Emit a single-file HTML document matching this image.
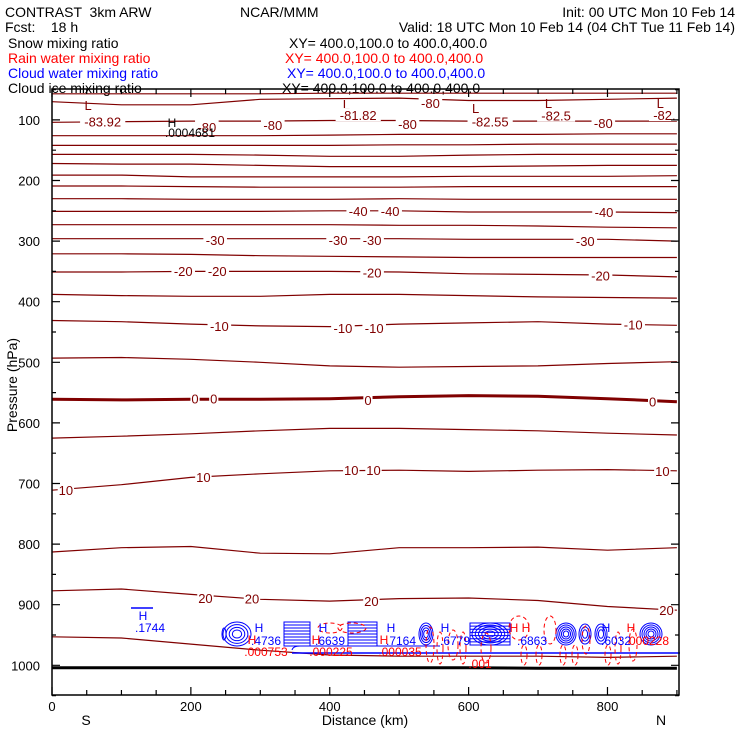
<!DOCTYPE html>
<html><head><meta charset="utf-8">
<style>
html,body{margin:0;padding:0;background:#fff;}
svg{display:block;font-family:"Liberation Sans",sans-serif;}
</style></head>
<body>
<svg id="chart" width="740" height="740" viewBox="0 0 740 740" xmlns="http://www.w3.org/2000/svg">
  <g font-size="14">
    <text x="5" y="17" xml:space="preserve">CONTRAST  3km ARW</text>
    <text x="240" y="17">NCAR/MMM</text>
    <text x="735" y="17" text-anchor="end">Init: 00 UTC Mon 10 Feb 14</text>
    <text x="5" y="32" xml:space="preserve">Fcst:    18 h</text>
    <text x="735" y="32" text-anchor="end">Valid: 18 UTC Mon 10 Feb 14 (04 ChT Tue 11 Feb 14)</text>
    <text x="8" y="48">Snow mixing ratio</text>
    <text x="289" y="48">XY= 400.0,100.0 to 400.0,400.0</text>
    <text x="8" y="63" fill="#ff0000">Rain water mixing ratio</text>
    <text x="285" y="63" fill="#ff0000">XY= 400.0,100.0 to 400.0,400.0</text>
    <text x="8" y="78" fill="#0000ff">Cloud water mixing ratio</text>
    <text x="287" y="78" fill="#0000ff">XY= 400.0,100.0 to 400.0,400.0</text>
    <text x="8" y="93">Cloud ice mixing ratio</text>
    <text x="282" y="93">XY= 400.0,100.0 to 400.0,400.0</text>
  </g>
  <g id="plot"></g>
  <text font-size="14" transform="translate(17,385) rotate(-90)" text-anchor="middle">Pressure (hPa)</text>
  <text font-size="14" x="365" y="725" text-anchor="middle">Distance (km)</text>
  <text font-size="14" x="86" y="725" text-anchor="middle">S</text>
  <text font-size="14" x="661" y="725" text-anchor="middle">N</text>
</svg>
<script>
const kmStops = [0,100,200,300,400,500,600,700,800,900];
const isotherm1 = [57,57,57,57,56,56,56,56,56,56];
const isotherm2 = [70,75,75,66,65,64,68,68,66,64];
const isotherm3 = [104,103,102,102,101,101,102,102,102,102];
const isotherm4 = [126,126,126,126,125,124,124,124,123,123];
const isotherm5 = [142,142,142,142,142,141,141,140,140,140];
const isotherm6 = [157,157,157,158,160,160,158,157,157,157];
const isotherm7 = [172,173,173,175,177,177,177,176,175,175];
const isotherm8 = [191,191,194,194,194,194,193,193,193,192];
const isotherm9 = [209,209,210,211,211,211,210,210,210,210];
const isotherm10 = [230,230,231,231,231,230,231,231,231,231];
const isotherm11 = [251,251,251,251,250,250,252,252,252,253];
const isotherm12 = [273,273,273,273,273,274,274,275,277,278];
const isotherm13 = [296,296,296,296,296,296,297,297,297,300];
const isotherm14 = [321,321,322,324,325,326,327,327,327,327];
const isotherm15 = [351,351,350,350,350,351,354,355,356,359];
const isotherm16 = [388,390,391,391,388,388,390,392,393,394];
const isotherm17 = [431,433,437,440,441,437,435,433,437,439];
const isotherm18 = [493,492,495,500,506,508,507,506,502,499];
const isotherm19 = [561,562,561,561,560,557,555,556,560,565];
const isotherm20 = [625,622,618,613,609,609,611,613,617,620];
const isotherm21 = [711,702,690,684,679,678,680,678,677,679];
const isotherm22 = [813,806,804,815,816,806,806,805,810,806];
const isotherm23 = [877,874,883,891,894,890,889,893,903,909];
const isotherm24 = [953,955,965,975,983,985,985,985,987,985];
const groundLevel = [1004,1004,1004,1004,1004,1004,1004,1005,1005,1005];
const isotherms = [isotherm1,isotherm2,isotherm3,isotherm4,isotherm5,isotherm6,isotherm7,isotherm8,isotherm9,isotherm10,isotherm11,isotherm12,isotherm13,isotherm14,isotherm15,isotherm16,isotherm17,isotherm18,isotherm19,isotherm20,isotherm21,isotherm22,isotherm23,isotherm24];
const pressureTicks = [100,200,300,400,500,600,700,800,900,1000];
const distanceTicks = [0,200,400,600,800];
const labelKm = [52,73,223,318,424,441,545,512,610,631,715,726,794,876,882,441,487,795,235,412,461,768,189,238,461,790,241,419,464,837,206,233,455,865,20,218,431,463,879,221,288,460,885];
const labelP = [75,103,112,108,74,92,72,107,80,103,72,93,105,72,92,250,250,252,298,298,298,300,349,349,352,357,440,443,443,438,560,560,562,565,711,689,678,678,679,889,890,894,909];
const labelText = ["L","-83.92","-80","-80","L","-81.82","-80","-80","L","-82.55","L","-82.5","-80","L","-82.","-40","-40","-40","-30","-30","-30","-30","-20","-20","-20","-20","-10","-10","-10","-10","0","0","0","0","10","10","10","10","10","20","20","20","20"];

const X0=52, X1=679, KMAX=903, Y0=89, Y1=695, PMIN=49, PMAX=1049;
const xs = km => X0 + (km/KMAX)*(X1-X0);
const ys = p => Y0 + (p-PMIN)/(PMAX-PMIN)*(Y1-Y0);
const NS="http://www.w3.org/2000/svg";
const plot=document.getElementById('plot');
function mk(tag,attrs,parent){const e=document.createElementNS(NS,tag);for(const k in attrs)e.setAttribute(k,attrs[k]);(parent||plot).appendChild(e);return e;}

isotherms.forEach((arr,i)=>{
  const d=arr.map((p,j)=>(j?'L':'M')+xs(kmStops[j]).toFixed(1)+','+ys(p).toFixed(1)).join(' ');
  const el=mk('path',{d:d,fill:'none',stroke:'#800000','stroke-width':(i===18?3:1.2)});
  
  
});
{
  const d=groundLevel.map((p,j)=>(j?'L':'M')+xs(kmStops[j]).toFixed(1)+','+ys(p).toFixed(1)).join(' ');
  const el=mk('path',{d:d,fill:'none',stroke:'#000','stroke-width':3});
  
  
}
labelText.forEach((t,i)=>{
  const isL=(t==='L');
  const x=xs(labelKm[i]), y=ys(labelP[i]);
  const w=t.length*7.2+2;
  if(!isL){const bg=mk('rect',{x:x-w/2,y:y-7,width:w,height:13,fill:'#fff'});
    
    }
  const el=mk('text',{x:x,y:y+5,'text-anchor':'middle','font-size':13,fill:'#800000'});
  el.textContent=t;
  
  
});
{
  let e=mk('text',{x:172,y:127,'text-anchor':'middle','font-size':12,fill:'#000'});e.textContent='H';
  
  
  e=mk('text',{x:190,y:137,'text-anchor':'middle','font-size':12,fill:'#000'});e.textContent='.0004681';
  
  
}
const g=mk('g',{});


function stripes(x,y,w,h,n){for(let i=0;i<n;i++){mk('path',{d:`M${x},${y+i*h/(n-1)} h${w}`,stroke:'#0000ff','stroke-width':1},g);} mk('rect',{x:x,y:y,width:w,height:h,fill:'none',stroke:'#0000ff'},g);}
function ovals(cx,cy,rx,ry,n){for(let i=0;i<n;i++){mk('ellipse',{cx:cx,cy:cy,rx:rx*(1-i/(n+0.5)),ry:ry*(1-i/(n+0.5)),fill:'none',stroke:'#0000ff','stroke-width':1},g);}}
stripes(284,622,26,24,9); stripes(348,622,29,24,9); stripes(470,623,40,22,8);
ovals(237,634,14,12,4); ovals(426,634,7,11,4); ovals(490,634,18,11,5); ovals(566,634,10,11,5);
ovals(585,634,6,10,3); ovals(601,634,6,10,3); ovals(651,634,11,11,5); ovals(224,634,2,6,1);
mk('path',{d:'M292,653 H680',stroke:'#0000ff','stroke-width':1.5},g);
mk('path',{d:'M292,650 Q293,646 300,646 H440',fill:'none',stroke:'#0000ff'},g);
mk('path',{d:'M131,608 H153',stroke:'#0000ff','stroke-width':1.5},g);
[[519,628,10,12],[550,630,6,14],[586,640,4,14],[633,645,4,16],[430,645,4,18],[453,645,5,15],[486,648,5,15],[524,655,3,10],[539,655,3,10],[563,655,3,10],[575,655,3,10],[608,655,3,10],[618,648,3,16],[352,628,14,5],[330,628,12,5],[440,648,3,16],[463,648,3,16]].forEach(a=>{
  mk('ellipse',{cx:a[0],cy:a[1],rx:a[2],ry:a[3],fill:'none',stroke:'#ff0000','stroke-dasharray':'4,3','stroke-width':1},g);
});
const blueTxt=[['H',143,620],['.1744',150,632],['H',259,632],['.4736',266,645],['H',323,632],['.6639',330,645],['H',391,632],['.7164',401,645],['H',445,632],['.6779',455,645],['.6863',532,645],['H',606,632],['.6032',616,645]];
blueTxt.forEach(a=>{const e=mk('text',{x:a[1],y:a[2],'text-anchor':'middle','font-size':12,fill:'#0000ff'},g);e.textContent=a[0];
  
  });
const redTxt=[['H',252,644],['.000753',266,656],['H',316,644],['.000225',331,656],['H',384,644],['.000035',400,656],['H H',520,632],['H',631,632],['000228',649,645],['.001',480,668]];
redTxt.forEach(a=>{const e=mk('text',{x:a[1],y:a[2],'text-anchor':'middle','font-size':12,fill:'#ff0000'},g);e.textContent=a[0];
  
  });

{
  const f=mk('rect',{x:X0,y:Y0,width:X1-X0,height:Y1-Y0,fill:'none',stroke:'#000','stroke-width':1.5});
  
  
}
for(let p=50;p<=1050;p+=50){
  const y=ys(p), L=(p%100===0)?8:4;
  mk('path',{d:`M${X0},${y} h${L} M${X1},${y} h${-L}`,stroke:'#000','stroke-width':1.2});
}
pressureTicks.forEach(p=>{
  const e=mk('text',{x:40,y:ys(p)+5,'text-anchor':'end','font-size':13});e.textContent=p;
  
  
});
for(let km=0;km<=900;km+=50){
  const x=xs(km), L=(km%200===0)?8:5;
  mk('path',{d:`M${x},${Y1} v${-L} M${x},${Y0} v${L}`,stroke:'#000','stroke-width':1.2});
}
distanceTicks.forEach(km=>{
  const e=mk('text',{x:xs(km),y:711,'text-anchor':'middle','font-size':13});e.textContent=km;
  
  
});
</script>
</body></html>
